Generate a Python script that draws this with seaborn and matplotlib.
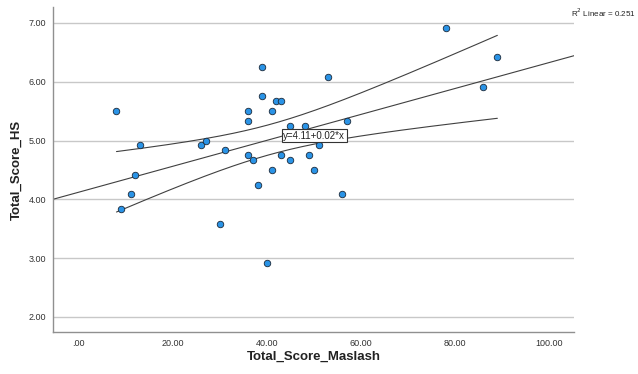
import numpy as np
import pandas as pd
import matplotlib
matplotlib.use("Agg")
import matplotlib.pyplot as plt
import seaborn as sns

maslash = [39, 53, 8, 39, 42, 43, 36, 41, 36, 57, 45, 48, 13, 26, 27, 31, 51,
           36, 37, 43, 45, 49, 12, 41, 50, 38, 11, 56, 78, 89, 86, 9, 30, 40]
hs_twelfths = [75, 73, 66, 69, 68, 68, 66, 66, 64, 64, 63, 63, 59, 59, 60, 58, 59,
               57, 56, 57, 56, 57, 53, 54, 54, 51, 49, 49, 83, 77, 71, 46, 43, 35]
hs = [v / 12 for v in hs_twelfths]

x_ticks = [0, 20, 40, 60, 80, 100]
x_tick_labels = [".00", "20.00", "40.00", "60.00", "80.00", "100.00"]
y_ticks = [2, 3, 4, 5, 6, 7]
y_tick_labels = ["2.00", "3.00", "4.00", "5.00", "6.00", "7.00"]
equation_text = "y=4.11+0.02*x"
r2_text = "R$^2$ Linear = 0.251"

df = pd.DataFrame({"Total_Score_Maslash": maslash, "Total_Score_HS": hs})

sns.set_theme(style="white")
plt.rcParams["font.family"] = ["Liberation Sans", "DejaVu Sans"]

fig = plt.figure(figsize=(6.38, 3.74), dpi=100)
ax = fig.add_axes([53 / 638, 1 - 332 / 374, (574 - 53) / 638, (332 - 7) / 374])

xlim = (-5.5, 105.3)
ylim = (1.745, 7.27)
ax.set_xlim(*xlim)
ax.set_ylim(*ylim)

for yt in y_ticks:
    ax.axhline(yt, color="#c8c8c8", lw=1.0, zorder=0)

# fit and confidence band from the data
xa = np.array(maslash, float)
ya = np.array(hs, float)
n = len(xa)
b, a = np.polyfit(xa, ya, 1)
resid = ya - (a + b * xa)
s = np.sqrt(np.sum(resid ** 2) / (n - 2))
sxx = np.sum((xa - xa.mean()) ** 2)
t = 2.0369
xf = np.linspace(xlim[0], xlim[1], 200)
ax.plot(xf, a + b * xf, color="#404040", lw=0.8, zorder=2)
xc = np.linspace(xa.min(), xa.max(), 200)
se = s * np.sqrt(1 / n + (xc - xa.mean()) ** 2 / sxx)
ax.plot(xc, a + b * xc + t * se, color="#404040", lw=0.8, zorder=2)
ax.plot(xc, a + b * xc - t * se, color="#404040", lw=0.8, zorder=2)

sns.scatterplot(data=df, x="Total_Score_Maslash", y="Total_Score_HS", ax=ax,
                s=22, color="#2a93e6", edgecolor="#1c2a3a", linewidth=0.6, zorder=3)

ax.text(43.5, 5.08, equation_text, fontsize=7, va="center", ha="left", color="#222222",
        bbox=dict(boxstyle="square,pad=0.15", fc="white", ec="#333333", lw=0.8), zorder=4)
fig.text(636 / 638, 1 - 13 / 374, r2_text, fontsize=5.8, ha="right", va="center", color="#222222")

ax.set_xticks(x_ticks)
ax.set_xticklabels(x_tick_labels, fontsize=6.5, color="#333333")
ax.set_yticks(y_ticks)
ax.set_yticklabels(y_tick_labels, fontsize=6.5, color="#333333")
ax.tick_params(length=0, pad=5)
ax.set_xlabel("Total_Score_Maslash", fontsize=9.5, fontweight="bold", color="#222222")
ax.set_ylabel("Total_Score_HS", fontsize=9.5, fontweight="bold", color="#222222")
ax.xaxis.set_label_coords(0.5, (332 - 357) / 325)
ax.yaxis.set_label_coords((17 - 53) / 521, 0.5)
ax.xaxis.label.set_va("center")
ax.yaxis.label.set_va("center")

for sp in ["top", "right"]:
    ax.spines[sp].set_visible(False)
for sp in ["left", "bottom"]:
    ax.spines[sp].set_color("#909090")
    ax.spines[sp].set_linewidth(1.0)

fig.savefig("out.png", dpi=100)
